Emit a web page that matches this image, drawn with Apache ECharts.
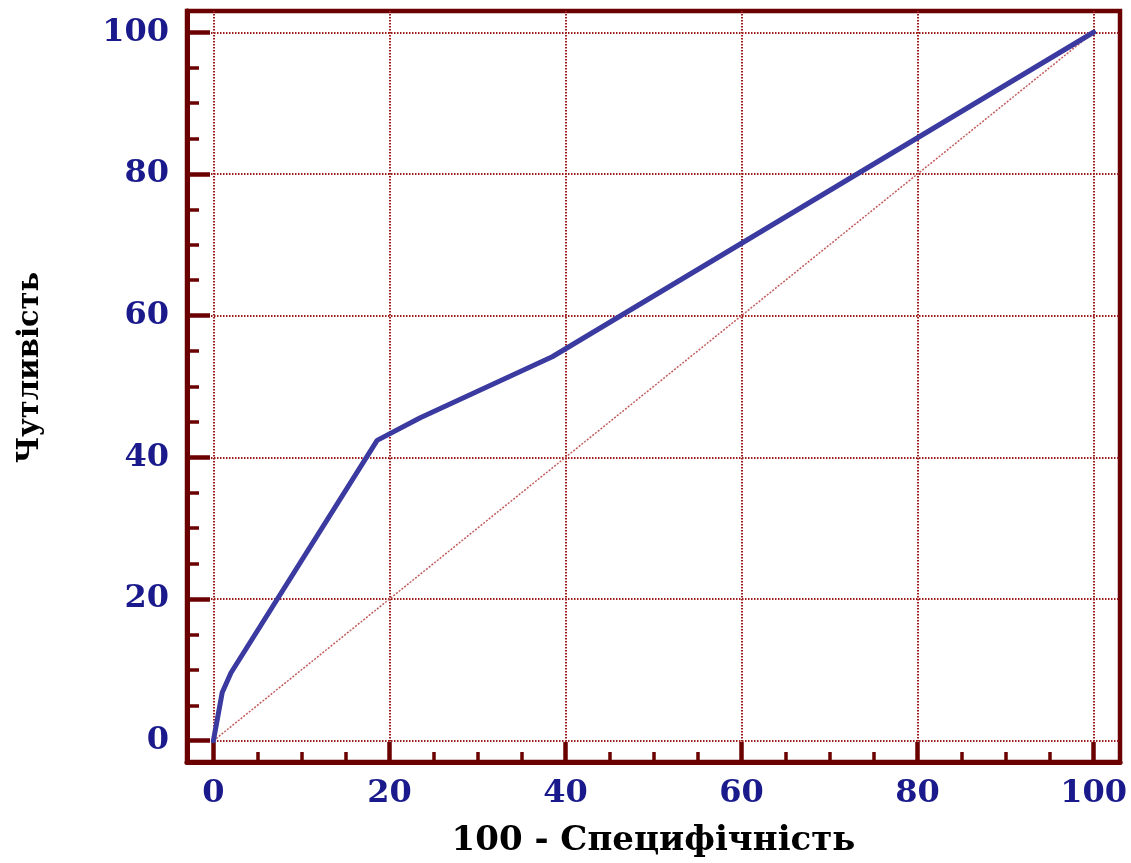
<!DOCTYPE html>
<html>
<head>
<meta charset="utf-8">
<title>ROC</title>
<script src="https://cdn.jsdelivr.net/npm/echarts@6/dist/echarts.min.js"></script>
<style>
  html, body { margin: 0; padding: 0; background: #ffffff; }
  #chart { width: 1131px; height: 863px; }
</style>
</head>
<body>
<div id="chart"></div>
<script>
// ROC curve: x = 100 - specificity, y = sensitivity (both in %)
const rocX = [0, 1, 2, 18.6, 23.5, 38.5, 100];
const rocY = [0, 6.8, 9.6, 42.4, 45.6, 54.2, 100];

// Reference diagonal (chance line)
const diagX = [0, 100];
const diagY = [0, 100];

// Tick positions / labels
const majorTicks = [0, 20, 40, 60, 80, 100];
const minorTicks = [5, 10, 15, 25, 30, 35, 45, 50, 55, 65, 70, 75, 85, 90, 95];

const xTitle = '100 - Специфічність';
const yTitle = 'Чутливість';

const FRAME = '#6b0000';
const LABEL = '#1a1a8c';
const GRIDLINE = '#9c1c1c';
const CURVE = '#3a3aa0';
const DIAG = '#c25c5c';
const AXIS_MIN = -3, AXIS_MAX = 103;

const labelFont = { color: LABEL, fontFamily: 'DejaVu Serif', fontWeight: 'bold', fontSize: 32 };
const titleFont = { color: '#000000', fontFamily: 'DejaVu Serif', fontWeight: 'bold', fontSize: 34 };

function majorAxis(isX) {
  return {
    type: 'value',
    min: AXIS_MIN,
    max: AXIS_MAX,
    position: isX ? 'bottom' : 'left',
    name: isX ? xTitle : yTitle,
    nameLocation: 'middle',
    nameGap: isX ? 62 : 142,
    nameTextStyle: isX ? titleFont : Object.assign({}, titleFont, { fontSize: 29, padding: [0, 0, 0, 38] }),
    axisLine: { show: true, onZero: false, lineStyle: { color: FRAME, width: 5 } },
    axisTick: {
      show: true, inside: true, length: isX ? 20 : 23,
      customValues: majorTicks,
      lineStyle: { color: FRAME, width: 4.5 }
    },
    axisLabel: Object.assign({ show: true, margin: isX ? 16 : 18, customValues: majorTicks }, labelFont,
      isX ? {} : { padding: [6, 0, 0, 0] }),
    splitLine: { show: true, lineStyle: { color: GRIDLINE, width: 2, type: [1.5, 1.5] } }
  };
}

function minorAxis(isX) {
  return {
    type: 'value',
    min: AXIS_MIN,
    max: AXIS_MAX,
    position: isX ? 'bottom' : 'left',
    axisLine: { show: false, onZero: false },
    axisTick: {
      show: true, inside: true, length: isX ? 10 : 12,
      customValues: minorTicks,
      lineStyle: { color: FRAME, width: 3.5 }
    },
    axisLabel: { show: false },
    splitLine: { show: false }
  };
}

const chart = echarts.init(document.getElementById('chart'), null, { renderer: 'canvas' });
chart.setOption({
  animation: false,
  backgroundColor: '#ffffff',
  grid: {
    left: 187, right: 11, top: 11, bottom: 101,
    show: true, borderColor: FRAME, borderWidth: 4.5, backgroundColor: 'transparent'
  },
  xAxis: [majorAxis(true), minorAxis(true)],
  yAxis: [majorAxis(false), minorAxis(false)],
  series: [
    {
      type: 'line',
      xAxisIndex: 0, yAxisIndex: 0,
      data: diagX.map((x, i) => [x, diagY[i]]),
      showSymbol: false,
      lineStyle: { color: DIAG, width: 1.5, type: [2, 1.5] },
      z: 2
    },
    {
      type: 'line',
      xAxisIndex: 0, yAxisIndex: 0,
      data: rocX.map((x, i) => [x, rocY[i]]),
      showSymbol: false,
      lineStyle: { color: CURVE, width: 5, join: 'round', cap: 'round' },
      z: 3
    }
  ]
});
</script>
</body>
</html>
